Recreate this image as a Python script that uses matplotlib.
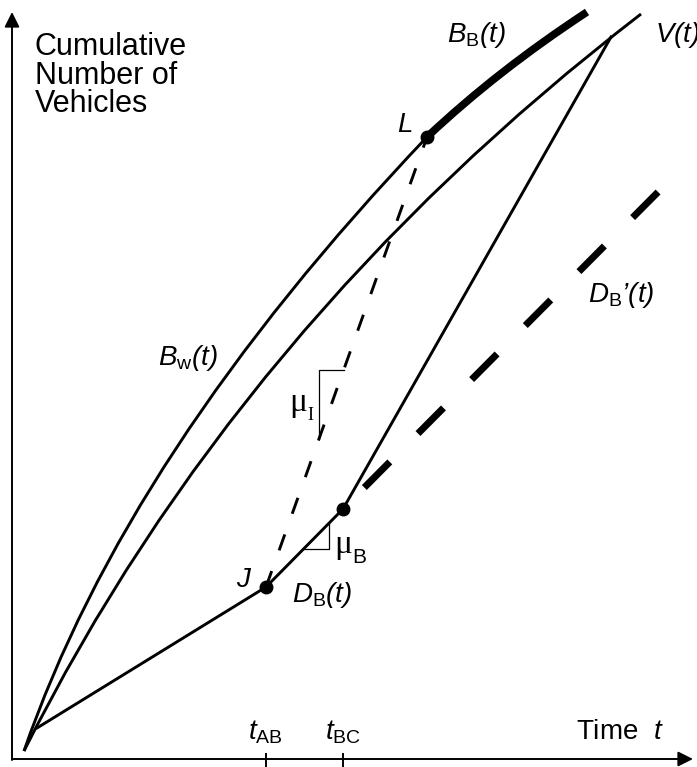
import numpy as np
import matplotlib
matplotlib.use("Agg")
import matplotlib.pyplot as plt
from matplotlib.path import Path
from matplotlib.patches import PathPatch

plt.rcParams['font.family'] = ['Liberation Sans', 'DejaVu Sans']
# italic as the math "rm" font so parentheses come out slanted; upright via \mathsf
plt.rcParams['mathtext.fontset'] = 'custom'
plt.rcParams['mathtext.rm'] = 'Liberation Sans:italic'
plt.rcParams['mathtext.it'] = 'Liberation Sans:italic'
plt.rcParams['mathtext.sf'] = 'Liberation Sans'
plt.rcParams['mathtext.bf'] = 'Liberation Sans:bold'
plt.rcParams['lines.scale_dashes'] = False

# schematic values (time, cumulative vehicles), origin at the axis corner
# curves given as start / control / end points of a quadratic curve
bw_t = [12, 115, 415]
bw_n = [8, 307, 622]
v_t = [12, 225, 629]
v_n = [8, 434, 745]
bb_t = [415, 485, 575]
bb_n = [622, 688, 747]

# D_B(t) polyline: start, J, knee, end on V(t)
db_t = [25, 254, 331, 599]
db_n = [31, 172, 250, 722]
# D_B'(t) continuation past the knee
dbp_t = [331, 653]
dbp_n = [250, 574]

t_ticks = [254, 331]
t_tick_labels = [r'$t_{\mathsf{AB}}$', r'$t_{\mathsf{BC}}$']

t_max = 681
n_max = 747

thin = 2.1


def quad_curve(ax, ts, ns, **kw):
    verts = list(zip(ts, ns))
    path = Path(verts, [Path.MOVETO, Path.CURVE3, Path.CURVE3])
    ax.add_patch(PathPatch(path, fill=False, **kw))


def main():
    fig = plt.figure(figsize=(6.97, 7.67), dpi=100)
    ax = fig.add_axes([0, 0, 1, 1])
    ax.set_xlim(-12, 685)
    ax.set_ylim(-8, 759)
    ax.axis('off')

    # axes with arrows
    arrow = dict(arrowstyle='-|>,head_length=0.9,head_width=0.45', lw=1.4,
                 color='black', mutation_scale=10, shrinkA=0, shrinkB=0)
    ax.annotate('', xy=(t_max, 0), xytext=(0, 0), arrowprops=arrow)
    ax.annotate('', xy=(0, n_max), xytext=(0, -1), arrowprops=arrow)
    for tk, lab in zip(t_ticks, t_tick_labels):
        ax.plot([tk, tk], [5, -10], color='black', lw=1.4, clip_on=False)
        ax.text(tk - 18, 20, lab, fontsize=20, va='baseline', ha='left')

    # curves
    quad_curve(ax, bw_t, bw_n, lw=thin, color='black')
    quad_curve(ax, v_t, v_n, lw=thin, color='black')
    quad_curve(ax, bb_t, bb_n, lw=5.5, color='black', capstyle='butt')
    ax.plot(db_t, db_n, color='black', lw=thin, solid_joinstyle='miter')
    ax.plot(dbp_t, dbp_n, color='black', lw=5.0,
            linestyle=(33, (26, 28.8)), dash_capstyle='butt')

    # J to L dashed
    ax.plot([db_t[1], bw_t[2]], [db_n[1], bw_n[2]], color='black', lw=thin,
            linestyle=(0, (12.2, 15.8)), dash_capstyle='butt')

    # points
    ax.plot([db_t[1], db_t[2], bw_t[2]], [db_n[1], db_n[2], bw_n[2]], 'o',
            color='black', markersize=9)

    # slope triangle on J-L
    sl = (bw_n[2] - db_n[1]) / (bw_t[2] - db_t[1])
    tri_t = 307
    tri_n = 389
    ax.plot([db_t[1] + (tri_n - db_n[1]) / sl, tri_t, tri_t],
            [tri_n, tri_n, db_n[1] + (tri_t - db_t[1]) * sl],
            color='black', lw=0.9)
    # slope triangle on D_B
    sb = (db_n[2] - db_n[1]) / (db_t[2] - db_t[1])
    trb_t = 317
    trb_n = 210
    ax.plot([db_t[1] + (trb_n - db_n[1]) / sb, trb_t, trb_t],
            [trb_n, trb_n, db_n[1] + (trb_t - db_t[1]) * sb],
            color='black', lw=0.9)

    # labels
    for i, line in enumerate(['Cumulative', 'Number of', 'Vehicles']):
        ax.text(23, 704 - i * 28.5, line, fontsize=22, va='baseline')
    ax.text(564, 20, r'$\mathsf{Time}\ \ t$', fontsize=20, va='baseline')
    ax.text(385, 627, r'$L$', fontsize=20, va='baseline')
    ax.text(224, 172, r'$J$', fontsize=20, va='baseline')
    ax.text(435, 717, r'$B_{\mathsf{B}}(t)$', fontsize=20, va='baseline')
    ax.text(643, 717, r'$V(t)$', fontsize=20, va='baseline')
    ax.text(146, 394, r'$B_{\mathsf{w}}(t)$', fontsize=20, va='baseline')
    ax.text(280, 157, r'$D_{\mathsf{B}}(t)$', fontsize=20, va='baseline')
    ax.text(576, 457, r'$D_{\mathsf{B}}\mathrm{’(t)}$', fontsize=20, va='baseline')
    ax.text(277, 348, 'μ', fontsize=24, va='baseline', family='Liberation Serif')
    ax.text(295, 339, 'I', fontsize=13, va='baseline', family='Liberation Serif')
    ax.text(322, 206, 'μ', fontsize=24, va='baseline', family='Liberation Serif')
    ax.text(340, 196, 'B', fontsize=15, va='baseline')

    fig.savefig('out.png', dpi=100)


if __name__ == "__main__":
    main()
